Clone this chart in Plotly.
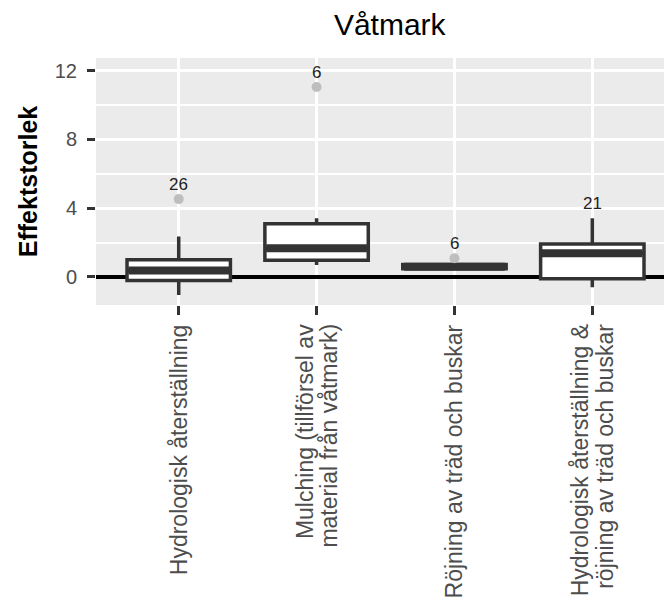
import plotly.graph_objects as go

# Treatment categories (x) and their box-plot summaries (effect size)
categories = [
    "Hydrologisk återställning",
    "Mulching (tillförsel av\nmaterial från våtmark)",
    "Röjning av träd och buskar",
    "Hydrologisk återställning &\nröjning av träd och buskar",
]
q1 = [-0.20, 0.97, 0.48, -0.10]
median = [0.37, 1.67, 0.60, 1.38]
q3 = [1.00, 3.09, 0.72, 1.92]
lower_whisker = [-1.05, 0.70, 0.46, -0.60]
upper_whisker = [2.35, 3.42, 0.74, 3.42]

# Outlying studies per category (1-based category position)
outlier_cat = [1, 2, 3]
outlier_val = [4.53, 11.05, 1.09]

# Number of studies per category
n_studies = ["26", "6", "6", "21"]

y_ticks = [0, 4, 8, 12]

FONT = "Liberation Sans, Arial, sans-serif"
BOX_W = 0.75
LINE = "#333333"
LABEL_SIZE = 23
LABEL_LINE_GAP = 24  # px between lines of a wrapped category label

xs = list(range(1, len(categories) + 1))

fig = go.Figure()

for i, x in enumerate(xs):
    fig.add_trace(go.Box(
        x=[x], q1=[q1[i]], median=[median[i]], q3=[q3[i]],
        lowerfence=[lower_whisker[i]], upperfence=[upper_whisker[i]],
        width=BOX_W, whiskerwidth=0, boxpoints=False,
        fillcolor="white", line=dict(color=LINE, width=3.5),
        showlegend=False, hoverinfo="skip",
    ))
    # heavier median bar
    fig.add_trace(go.Scatter(
        x=[x - BOX_W / 2 + 0.01, x + BOX_W / 2 - 0.01], y=[median[i], median[i]],
        mode="lines", line=dict(color=LINE, width=8),
        showlegend=False, hoverinfo="skip",
    ))

fig.add_trace(go.Scatter(
    x=outlier_cat, y=outlier_val, mode="markers",
    marker=dict(color="#BEBEBE", size=10, line=dict(width=0)),
    showlegend=False, hoverinfo="skip",
))

# study counts above the highest point of each category
for i, x in enumerate(xs):
    top = upper_whisker[i]
    for c, v in zip(outlier_cat, outlier_val):
        if c == x:
            top = max(top, v)
    fig.add_annotation(
        x=x, y=top, text=n_studies[i], showarrow=False,
        yshift=15, yanchor="middle",
        font=dict(family=FONT, size=17, color="#222222"),
    )

# rotated category labels, one annotation per line so the wrapped
# labels keep a tight line spacing
for x, label in zip(xs, categories):
    lines = label.split("\n")
    k = len(lines)
    for j, line in enumerate(lines):
        fig.add_annotation(
            x=x, xref="x", y=0, yref="paper", text=line, showarrow=False,
            textangle=-90, xanchor="center", yanchor="top",
            xshift=(j - (k - 1) / 2) * LABEL_LINE_GAP, yshift=-18,
            borderpad=0,
            font=dict(family=FONT, size=LABEL_SIZE, color="#4D4D4D"),
        )

fig.update_layout(
    width=664, height=606,
    margin=dict(l=96, r=0, t=58, b=301),
    paper_bgcolor="white", plot_bgcolor="#EBEBEB",
    font=dict(family=FONT),
    title=dict(
        text="Våtmark", xref="container", x=0.587, xanchor="center",
        yref="container", y=1 - 24 / 606, yanchor="middle",
        font=dict(family=FONT, size=30, color="black"),
    ),
)

fig.update_xaxes(
    range=[0.4, 4.52], tickmode="array", tickvals=xs,
    ticktext=[""] * len(xs),
    ticks="outside", ticklen=9, tickwidth=3, tickcolor=LINE,
    showgrid=True, gridcolor="white", gridwidth=3,
    zeroline=False, showline=False,
)
fig.update_yaxes(
    range=[-1.63, 12.74], tickmode="array", tickvals=y_ticks,
    tickfont=dict(family=FONT, size=20, color="#4D4D4D"),
    ticks="outside", ticklen=8, tickwidth=3, tickcolor=LINE,
    showgrid=True, gridcolor="white", gridwidth=3,
    minor=dict(tickmode="array", tickvals=[2, 6, 10], showgrid=True,
               gridcolor="white", gridwidth=1.5, ticks=""),
    zeroline=True, zerolinecolor="black", zerolinewidth=3.5,
    showline=False, ticklabelstandoff=6,
    title=dict(text="<b>Effektstorlek</b>", standoff=10,
               font=dict(family=FONT, size=25, color="black")),
)

fig.write_html("out.html")
